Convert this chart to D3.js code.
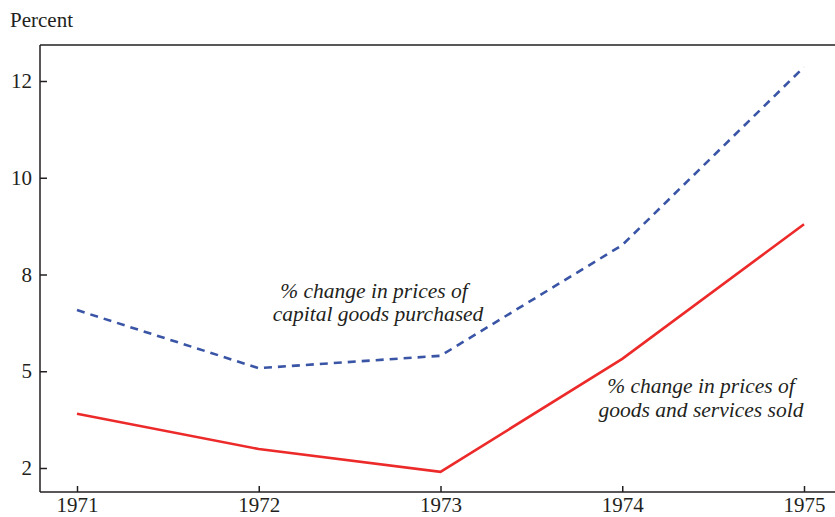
<!DOCTYPE html>
<meta charset="utf-8">
<style>
body { margin: 0; background: #fff; }
text { font-family: "Liberation Serif", "DejaVu Serif", serif; fill: #231f20; }
.axis path, .axis line { stroke: #231f20; stroke-width: 1.5; }
.note { font-style: italic; font-size: 21.5px; }
</style>
<svg width="835" height="517"></svg>
<script src="https://d3js.org/d3.v7.min.js"></script>
<script>

var years = [1971, 1972, 1973, 1974, 1975];
var capitalGoods = [6.58, 5.08, 5.40, 8.26, 12.86];   // dashed blue
var goodsSold = [3.90, 2.99, 2.40, 5.32, 8.80];       // solid red
var yTickValues = [2.5, 5, 7.5, 10, 12.5];
var yTickLabels = ["2", "5", "8", "10", "12"];

var svg = d3.select("svg"),
    frame = {left: 40, right: 835, top: 45, bottom: 492};

var x = d3.scaleLinear().domain([1971, 1975]).range([77, 804]),
    y = d3.scaleLinear().domain([2.5, 12.5]).range([468, 81]);

// top rule of the frame
svg.append("line")
    .attr("x1", frame.left).attr("x2", frame.right)
    .attr("y1", frame.top).attr("y2", frame.top)
    .attr("stroke", "#231f20").attr("stroke-width", 1.5);

var xAxis = svg.append("g")
    .attr("class", "axis")
    .attr("transform", "translate(0," + frame.bottom + ")")
    .call(d3.axisBottom(x).tickValues(years).tickFormat(d3.format("d"))
      .tickSizeInner(-6).tickSizeOuter(0));
xAxis.select(".domain").attr("d", "M" + frame.left + ",0H" + frame.right);
xAxis.selectAll("text").attr("font-size", 21).attr("dy", "0.71em").attr("y", 5);

var yAxis = svg.append("g")
    .attr("class", "axis")
    .attr("transform", "translate(" + frame.left + ",0)")
    .call(d3.axisLeft(y).tickValues(yTickValues)
      .tickFormat(function(d, i) { return yTickLabels[i]; })
      .tickSizeInner(-7).tickSizeOuter(0));
yAxis.select(".domain").attr("d", "M0," + frame.top + "V" + frame.bottom);
yAxis.selectAll("text").attr("font-size", 21).attr("x", -8);

svg.append("text")
    .attr("x", 10).attr("y", 27)
    .attr("font-size", 21)
    .text("Percent");

var line = d3.line()
    .x(function(d) { return x(d[0]); })
    .y(function(d) { return y(d[1]); });

svg.append("path")
    .datum(d3.zip(years, capitalGoods))
    .attr("d", line)
    .attr("fill", "none")
    .attr("stroke", "#3a55a6")
    .attr("stroke-width", 2.6)
    .attr("stroke-dasharray", "8,6");

svg.append("path")
    .datum(d3.zip(years, goodsSold))
    .attr("d", line)
    .attr("fill", "none")
    .attr("stroke", "#ed2a2a")
    .attr("stroke-width", 2.6);

// annotations
var note1 = svg.append("text").attr("class", "note").attr("text-anchor", "middle");
note1.append("tspan").attr("x", 374).attr("y", 298).text("% change in prices of");
note1.append("tspan").attr("x", 378).attr("y", 321).text("capital goods purchased");

var note2 = svg.append("text").attr("class", "note").attr("text-anchor", "middle");
note2.append("tspan").attr("x", 701).attr("y", 393).text("% change in prices of");
note2.append("tspan").attr("x", 701).attr("y", 417).text("goods and services sold");

</script>
